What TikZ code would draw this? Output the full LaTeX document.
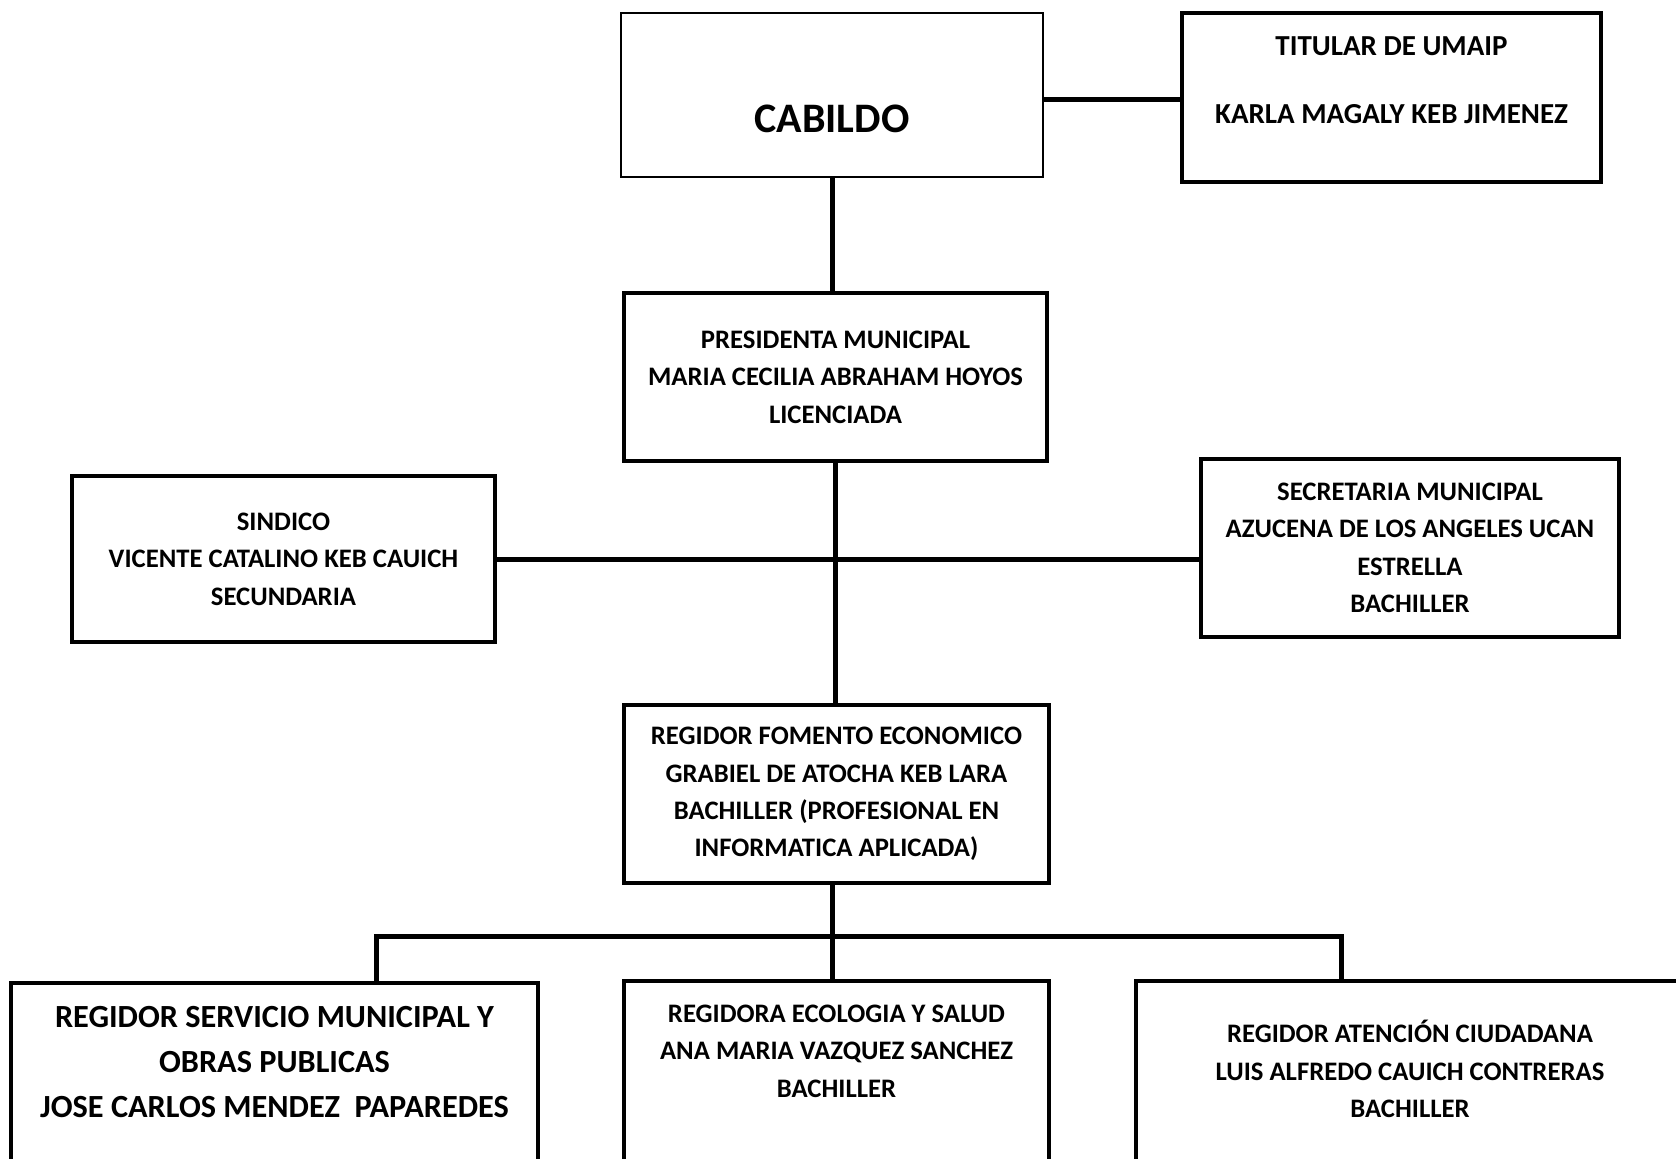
\documentclass[tikz,border=0pt]{standalone}
\usepackage{fontspec}
\setmainfont{Carlito}
\begin{document}
\begin{tikzpicture}[x=1pt,y=-1pt,
  box/.style={draw,line width=4pt,rectangle,inner sep=0pt,align=center,font=\bfseries\fontsize{26.7}{37.4}\selectfont},
  thinbox/.style={draw,line width=1.5pt,rectangle,inner sep=0pt},
  txt/.style={align=center,inner sep=0pt,font=\bfseries\fontsize{26.7}{37.4}\selectfont},
  conn/.style={line width=5pt}]
\useasboundingbox (0,0) rectangle (1676,1159);
\clip (0,0) rectangle (1676,1159);
\fill[white] (0,0) rectangle (1676,1159);

% boxes
\node[thinbox,minimum width=422pt,minimum height=164pt] (cab) at (832,95) {};
\node[txt,font=\bfseries\fontsize{42}{50}\selectfont] (cabt) at (832,119) {CABILDO};

\node[box,minimum width=419pt,minimum height=169pt] (umaip) at (1391.5,97.5) {};
\node[txt,font=\bfseries\fontsize{29}{37.4}\selectfont] (umaip1) at (1391.5,46) {TITULAR DE UMAIP};
\node[txt,font=\bfseries\fontsize{29}{37.4}\selectfont] (umaip2) at (1391.5,114.4) {KARLA MAGALY KEB JIMENEZ};

\node[box,minimum width=423pt,minimum height=168pt] (pres) at (835.5,377)
  {PRESIDENTA MUNICIPAL\\MARIA CECILIA ABRAHAM HOYOS\\LICENCIADA};

\node[box,minimum width=423pt,minimum height=166pt] (sind) at (283.5,559)
  {SINDICO\\VICENTE CATALINO KEB CAUICH\\SECUNDARIA};

\node[box,minimum width=418pt,minimum height=178pt] (secr) at (1410,548)
  {SECRETARIA MUNICIPAL\\AZUCENA DE LOS ANGELES UCAN\\ESTRELLA\\BACHILLER};

\node[box,minimum width=425pt,minimum height=178pt] (fom) at (836.5,794)
  {REGIDOR FOMENTO ECONOMICO\\GRABIEL DE ATOCHA KEB LARA\\BACHILLER (PROFESIONAL EN\\INFORMATICA APLICADA)};

% bottom boxes (cut by the page edge)
\node[box,minimum width=527pt,minimum height=230pt] (bl) at (274.5,1098) {};
\node[txt,font=\bfseries\fontsize{32.3}{45}\selectfont] (blt) at (274.5,1062)
  {REGIDOR SERVICIO MUNICIPAL Y\\OBRAS PUBLICAS\\JOSE CARLOS MENDEZ\ \ PAPAREDES};

\node[box,minimum width=425pt,minimum height=230pt] (bm) at (836.5,1096) {};
\node[txt] (bmt) at (836.5,1051)
  {REGIDORA ECOLOGIA Y SALUD\\ANA MARIA VAZQUEZ SANCHEZ\\BACHILLER};

\node[box,minimum width=570pt,minimum height=230pt] (br) at (1421,1096) {};
\node[txt] (brt) at (1410,1069)
  {REGIDOR ATENCIÓN CIUDADANA\\LUIS ALFREDO CAUICH CONTRERAS\\BACHILLER};

% connectors
\coordinate (cabr) at (1043,99);
\draw[conn] (cab.east |- cabr) -- (umaip.west |- cabr);
\draw[conn] (cab.south) -- (pres.north -| cab.south);
\draw[conn] (pres.south) -- (fom.north -| pres.south);
\draw[conn] (sind.east) -- (secr.west |- sind.east);
\coordinate (bus) at (832,936);
\coordinate (busl) at (376,936);
\coordinate (busr) at (1341,936);
\draw[conn] (fom.south -| bus) -- (bus);
\draw[conn] (busl |- bl.north) -- (busl) -- (busr) -- (busr |- br.north);
\draw[conn] (bus) -- (bus |- bm.north);
\end{tikzpicture}
\end{document}
